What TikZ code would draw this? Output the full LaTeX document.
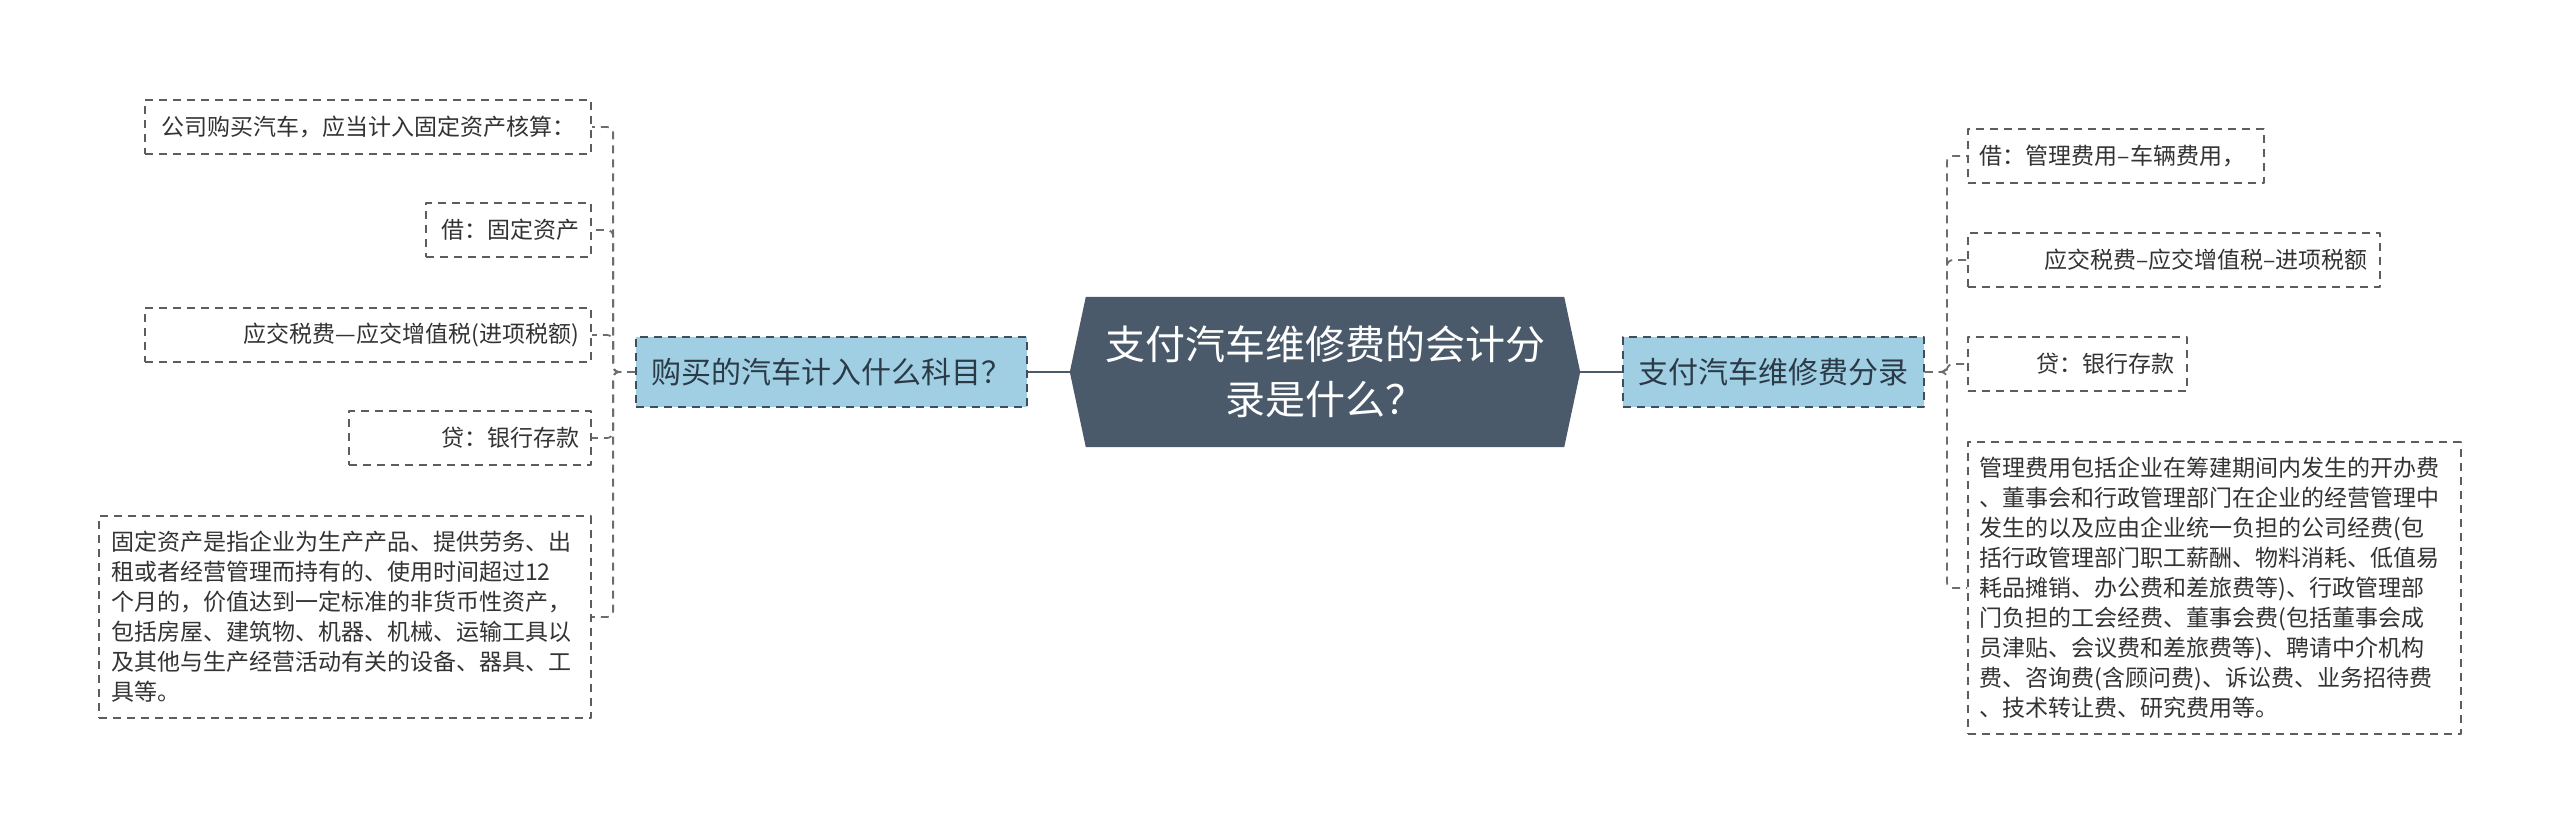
\documentclass[tikz,border=0pt]{standalone}
\usepackage{fontspec}
\usepackage{tikz}
\usetikzlibrary{backgrounds}
\newfontfamily\cjk{Noto Sans CJK SC}
\definecolor{kern}{HTML}{4A5A6A}
\definecolor{astfill}{HTML}{A0CFE4}
\definecolor{astrand}{HTML}{3F4E5C}
\definecolor{asttext}{HTML}{2B3A47}
\definecolor{rand}{HTML}{5A5E62}
\definecolor{linie}{HTML}{6A6E72}
\definecolor{schrift}{HTML}{333333}

\begin{document}
\begin{tikzpicture}[x=1pt, y=-1pt, line join=round,
		leaf/.style={draw=rand, line width=1.8pt, dash pattern=on 8pt off 6pt, text=schrift,
			font=\cjk\fontsize{23}{30}\selectfont, inner xsep=12pt, inner ysep=15pt, minimum height=54pt},
		ast/.style={draw=astrand, fill=astfill, line width=1.8pt, dash pattern=on 8pt off 6pt, text=asttext,
			font=\cjk\fontsize{30}{36}\selectfont, minimum height=70pt, inner sep=0pt},
		link/.style={draw=linie, line width=1.8pt, dash pattern=on 8pt off 6pt, rounded corners=6pt},
		spine/.style={draw=kern, line width=2.5pt}]
		
		\useasboundingbox (0,0) rectangle (2560,836);
		
		% --- Mitte (Sechseck) ---
		\node[font=\cjk\fontsize{40}{55}\selectfont, text=white, minimum width=478pt, minimum height=150pt,
			inner sep=0pt, align=center] (ctr) at (1325,372) {支付汽车维修费的会计分\\录是什么？};
		\coordinate (ctrL) at ([xshift=-16pt]ctr.west);
		\coordinate (ctrR) at ([xshift=16pt]ctr.east);
		\begin{scope}[on background layer]
			\fill[kern] (ctrL) -- (ctr.north west) -- (ctr.north east) -- (ctrR) -- (ctr.south east) -- (ctr.south west) -- cycle;
		\end{scope}
		
		% --- Aeste ---
		\node[ast, minimum width=391pt] (lb) at (831.5,372) {购买的汽车计入什么科目？};
		\node[ast, minimum width=301pt] (rb) at (1773.5,372) {支付汽车维修费分录};
		\draw[spine] (ctrL) -- (lb.east);
		\draw[spine] (ctrR) -- (rb.west);
		
		% --- Blaetter links ---
		\node[leaf, anchor=east, text width=422pt, align=center] (l1) at (592,127) {公司购买汽车，应当计入固定资产核算：};
		\node[leaf, anchor=east, text width=141pt, align=right] (l2) at (592,230) {借：固定资产};
		\node[leaf, anchor=east, text width=422pt, align=right] (l3) at (592,335) {应交税费—应交增值税(进项税额)};
		\node[leaf, anchor=east, text width=218pt, align=right] (l4) at (592,438) {贷：银行存款};
		\node[leaf, anchor=east, text width=468pt, align=left] (l5) at (592,617) {固定资产是指企业为生产产品、提供劳务、出\\租或者经营管理而持有的、使用时间超过12\\个月的，价值达到一定标准的非货币性资产，\\包括房屋、建筑物、机器、机械、运输工具以\\及其他与生产经营活动有关的设备、器具、工\\具等。};
		
		% --- Blaetter rechts ---
		\node[leaf, anchor=west, text width=272pt, align=left] (r1) at (1967,156) {借：管理费用–车辆费用，};
		\node[leaf, anchor=west, text width=388pt, align=right] (r2) at (1967,260) {应交税费–应交增值税–进项税额};
		\node[leaf, anchor=west, text width=195pt, align=right] (r3) at (1967,364) {贷：银行存款};
		\node[leaf, anchor=west, text width=469pt, align=left] (r4) at (1967,588) {管理费用包括企业在筹建期间内发生的开办费\\、董事会和行政管理部门在企业的经营管理中\\发生的以及应由企业统一负担的公司经费(包\\括行政管理部门职工薪酬、物料消耗、低值易\\耗品摊销、办公费和差旅费等)、行政管理部\\门负担的工会经费、董事会费(包括董事会成\\员津贴、会议费和差旅费等)、聘请中介机构\\费、咨询费(含顾问费)、诉讼费、业务招待费\\、技术转让费、研究费用等。};
		
		% --- Verbindungen ---
		\foreach \k in {l1,l2,l3,l4,l5}
			\draw[link] (lb.west) -- ++(-22,0) |- (\k.east);
		\foreach \k in {r1,r2,r3,r4}
			\draw[link] (rb.east) -- ++(22,0) |- (\k.west);
		
	\end{tikzpicture}
\end{document}
